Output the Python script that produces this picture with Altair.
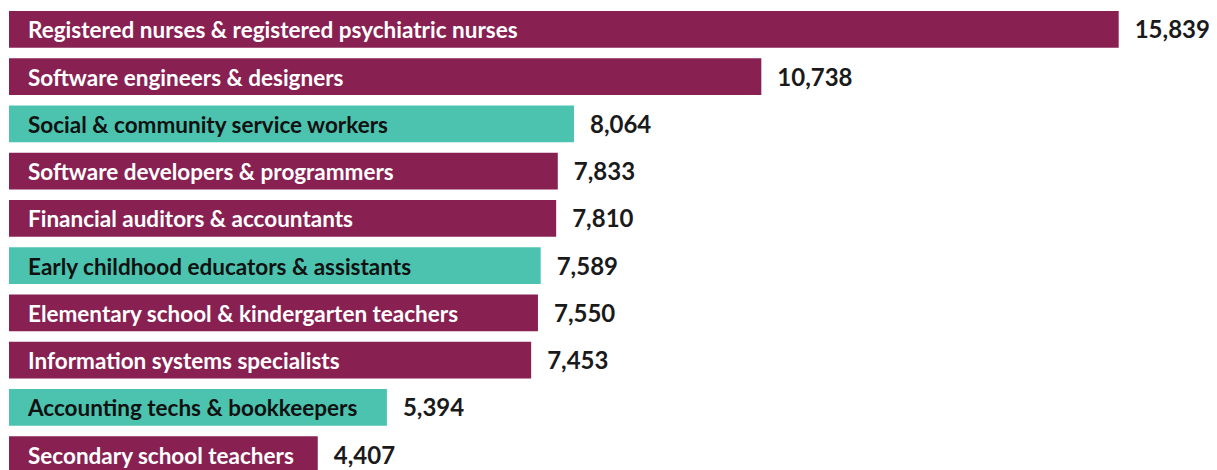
import altair as alt
import pandas as pd

categories = [
    "Registered nurses & registered psychiatric nurses",
    "Software engineers & designers",
    "Social & community service workers",
    "Software developers & programmers",
    "Financial auditors & accountants",
    "Early childhood educators & assistants",
    "Elementary school & kindergarten teachers",
    "Information systems specialists",
    "Accounting techs & bookkeepers",
    "Secondary school teachers",
]
values = [15839, 10738, 8064, 7833, 7810, 7589, 7550, 7453, 5394, 4407]
groups = ["maroon", "maroon", "teal", "maroon", "maroon", "teal", "maroon", "maroon", "teal", "maroon"]

df = pd.DataFrame({"occupation": categories, "value": values, "group": groups})
df["label"] = df["value"].map(lambda v: f"{v:,}")
df["start"] = 0

FONT = "Lato"

y = alt.Y("occupation:N", sort=categories, axis=None,
          scale=alt.Scale(paddingInner=0.224, paddingOuter=0.063))
xscale = alt.Scale(domain=[0, 17128], nice=False, zero=True)

bars = alt.Chart(df).mark_bar().encode(
    x=alt.X("value:Q", scale=xscale, axis=None),
    y=y,
    color=alt.Color("group:N", legend=None,
                    scale=alt.Scale(domain=["maroon", "teal"], range=["#882152", "#4bc3af"])),
)

names = alt.Chart(df).mark_text(
    align="left", baseline="middle", dx=19, dy=2, font=FONT, fontSize=22.5, fontWeight="bold"
).encode(
    x=alt.X("start:Q", scale=xscale, axis=None),
    y=y,
    text="occupation:N",
    color=alt.condition(alt.datum.group == "teal", alt.value("#111111"), alt.value("#ffffff")),
)

nums = alt.Chart(df).mark_text(
    align="left", baseline="middle", dx=16, dy=2, font=FONT, fontSize=24, fontWeight="bold",
    color="#1a1a1a"
).encode(
    x=alt.X("value:Q", scale=xscale, axis=None),
    y=y,
    text="label:N",
)

chart = alt.layer(bars, names, nums).properties(
    width=1200, height=468,
    padding={"left": 1, "top": 0, "right": 0, "bottom": 0},
    autosize=alt.AutoSizeParams(type="none"),
).configure_view(stroke=None)

chart.save("out.html", embed_options={"renderer": "svg", "actions": False})
